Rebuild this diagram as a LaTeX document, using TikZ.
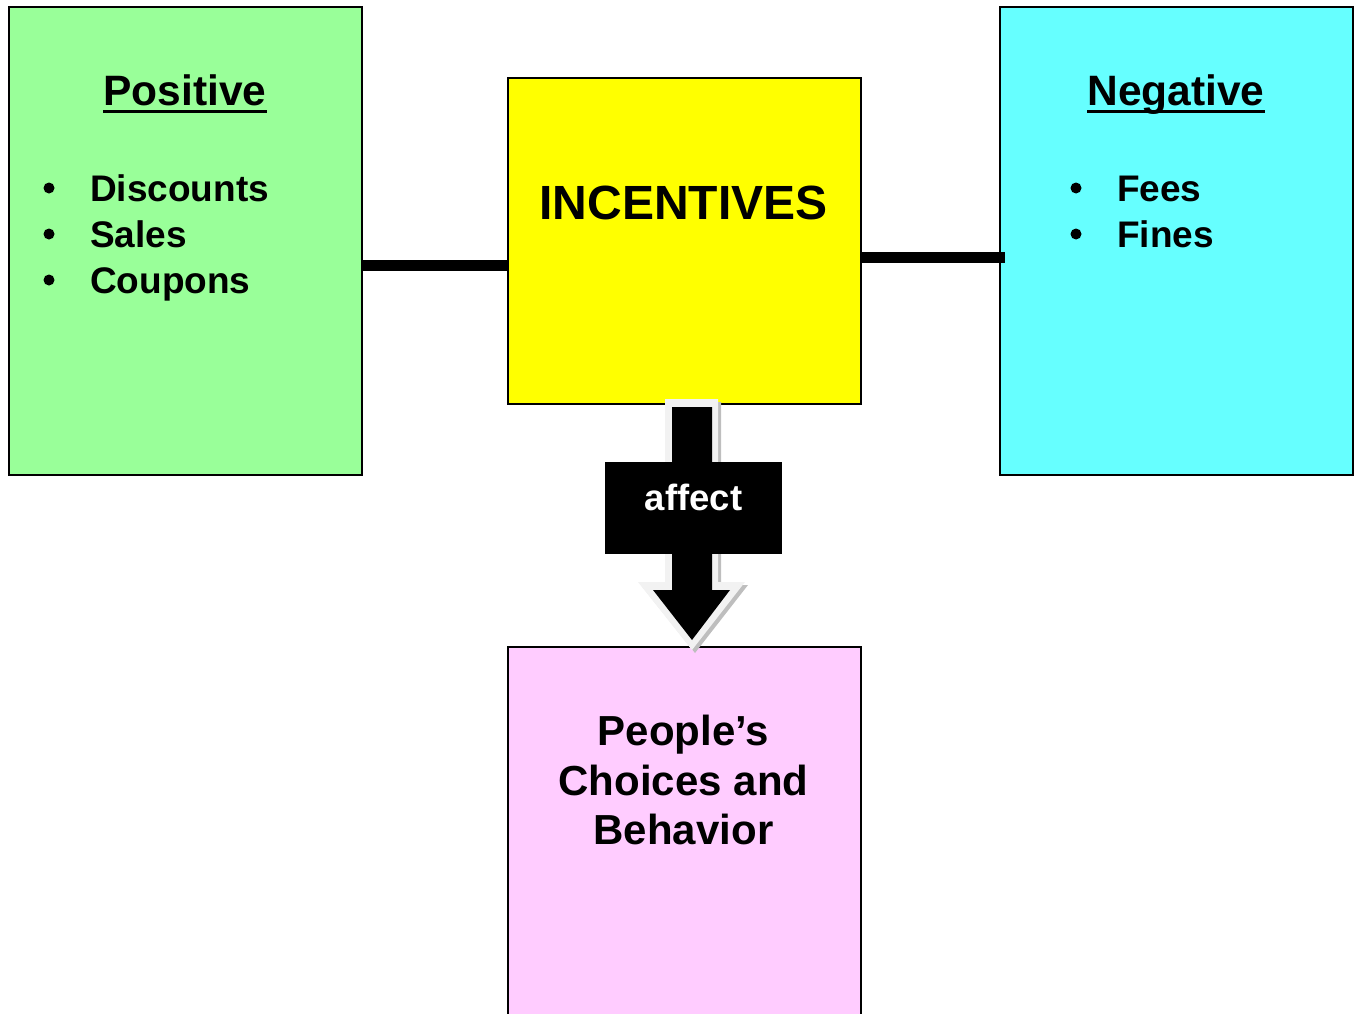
\documentclass[tikz,border=0pt]{standalone}
\usepackage{fontspec}
\setmainfont{Liberation Sans}
\definecolor{posgreen}{HTML}{99FF99}
\definecolor{incyellow}{HTML}{FFFF00}
\definecolor{negcyan}{HTML}{66FFFF}
\definecolor{peoplepink}{HTML}{FFCCFF}
\definecolor{arrowrim}{HTML}{F2F2F2}
\definecolor{arrowshade}{HTML}{BEBEBE}
\tikzset{
  panel/.style={draw=black, line width=2pt, inner sep=0pt},
  lbl/.style={inner sep=0pt, anchor=base, font=\bfseries\fontsize{37}{37}\selectfont},
  title/.style={inner sep=0pt, anchor=base, font=\bfseries\fontsize{42.5}{42.5}\selectfont},
  bar/.style={line width=11pt, black},
  bullet/.style={circle, fill=black, inner sep=0pt, minimum size=11pt},
}
\begin{document}
\begin{tikzpicture}[x=1pt,y=-1pt]
\useasboundingbox (0,0) rectangle (1354,1014);
\clip (0,0) rectangle (1354,1014);
% panels
\node[panel, fill=posgreen, minimum width=353pt, minimum height=468pt, anchor=north west] (pos) at (8,6) {};
\node[panel, fill=incyellow, minimum width=353pt, minimum height=326pt, anchor=north west] (inc) at (507,77) {};
\node[panel, fill=negcyan, minimum width=353pt, minimum height=468pt, anchor=north west] (neg) at (999,6) {};
\node[panel, fill=peoplepink, minimum width=353pt, minimum height=380pt, anchor=north west] (ppl) at (507,646) {};
% connectors
\coordinate (lrow) at (0,265);
\coordinate (rrow) at (0,257);
\draw[bar] (pos.east |- lrow) -- (inc.west |- lrow);
\draw[bar] (inc.east |- rrow) -- ([xshift=6pt]neg.west |- rrow);
% texts
\node[title] (postitle) at (185,106) {Positive};
\draw[line width=3pt] ([yshift=-5.5pt]postitle.base west) -- ([yshift=-5.5pt]postitle.base east);
\node[title] (negtitle) at (1176,106) {Negative};
\draw[line width=3pt] ([yshift=-5.5pt]negtitle.base west) -- ([yshift=-5.5pt]negtitle.base east);
\node[lbl, anchor=base west] (p1) at (90,201) {Discounts};
\node[lbl, anchor=base west] (p2) at (90,247) {Sales};
\node[lbl, anchor=base west] (p3) at (90,293) {Coupons};
\node[bullet] (pb1) at (49,188) {};
\node[bullet] (pb2) at (49,234) {};
\node[bullet] (pb3) at (49,280) {};
\node[lbl, anchor=base west] (n1) at (1117,201) {Fees};
\node[lbl, anchor=base west] (n2) at (1117,247) {Fines};
\node[bullet] (nb1) at (1076,188) {};
\node[bullet] (nb2) at (1076,234) {};
\node[inner sep=0pt, anchor=base, font=\bfseries\fontsize{48}{48}\selectfont] (inctext) at (683.5,219) {INCENTIVES};
\node[inner sep=0pt, anchor=north, align=center, font=\bfseries\fontsize{42}{49.5}\selectfont] (ppltext) at (683.5,715) {People’s\\Choices and\\Behavior};
% arrow: incentives affect people
\fill[arrowshade] (668,402) -- (721,402) -- (721,585) -- (748,585) -- (695,653) -- (641,585) -- (668,585) -- cycle;
\fill[arrowrim] (665,399) -- (718,399) -- (718,582) -- (745,582) -- (692,650) -- (638,582) -- (665,582) -- cycle;
\fill[black] (672,407) -- (712,407) -- (712,590) -- (730,590) -- (692,640) -- (653,590) -- (672,590) -- cycle;
\node[fill=black, minimum width=177pt, minimum height=92pt, inner sep=0pt, anchor=north west] (affbox) at (605,462) {};
\node[inner sep=0pt, anchor=base, text=white, font=\bfseries\fontsize{36.5}{36.5}\selectfont] (afftext) at (693.5,510) {affect};
\end{tikzpicture}
\end{document}
